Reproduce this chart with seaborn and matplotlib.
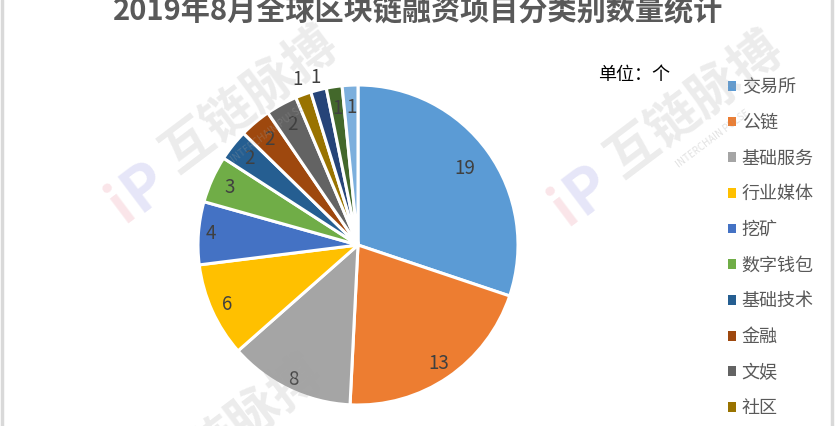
import numpy as np
import matplotlib
matplotlib.use("Agg")
import matplotlib.pyplot as plt
import seaborn as sns

# ---- data ----
title = "2019年8月全球区块链融资项目分类别数量统计"
unit_text = "单位：个"
legend_names = ["交易所", "公链", "基础服务", "行业媒体", "挖矿",
                "数字钱包", "基础技术", "金融", "文娱", "社区"]
counts = [19, 13, 8, 6, 4, 3, 2, 2, 2, 1, 1, 1, 1]
slice_colors = ["#5B9BD5", "#ED7D31", "#A5A5A5", "#FFC000", "#4472C4",
                "#70AD47", "#255E91", "#9E480E", "#636363", "#997300",
                "#264478", "#43682B", "#7CAFDD"]
# radial position of each value label (fraction of the radius)
label_radius = [0.82, 0.90, 0.93, 0.90, 0.92, 0.88, 0.87, 0.86, 0.86,
                1.10, 1.08, 0.86, 0.86]

sns.set_theme(style="white")
plt.rcParams["font.family"] = ["Noto Sans CJK SC", "DejaVu Sans"]
palette = sns.color_palette(slice_colors)

W, H = 836, 426
fig = plt.figure(figsize=(W / 100, H / 100), dpi=100)
fig.patch.set_facecolor("white")
ax = fig.add_axes([0, 0, 1, 1])

cx, cy, R = 358, H - 245, 160
wedges, _ = ax.pie(counts, colors=palette, startangle=90, counterclock=False,
                   center=(cx, cy), radius=R, frame=True,
                   wedgeprops=dict(edgecolor="white", linewidth=2.2))
ax.set_xlim(0, W)
ax.set_ylim(0, H)
ax.set_aspect("equal")
ax.axis("off")

for w, v, f in zip(wedges, counts, label_radius):
    mid = np.deg2rad((w.theta1 + w.theta2) / 2)
    ax.text(cx + f * R * np.cos(mid), cy + f * R * np.sin(mid), str(v),
            ha="center", va="center", fontsize=13.5, color="#404040")

# title
fig.text(0.5, 1 - 10 / H, title, ha="center", va="center", fontsize=21,
         fontweight="bold", color="#595959")
# unit note
ax.text(598, H - 75, unit_text, ha="left", va="center", fontsize=13,
        color="#000000")

leg = ax.legend(wedges[:len(legend_names)], legend_names, loc="upper left",
                bbox_to_anchor=(721 / W, 1 - 71 / H), frameon=False,
                fontsize=13, handlelength=0.45, handleheight=0.45,
                handletextpad=0.3, labelspacing=0.98, borderaxespad=0)
for t in leg.get_texts():
    t.set_color("#595959")
for h in leg.legend_handles:
    h.set_edgecolor("none")

# faint brand watermark
marks = [((250, 100), (135, 195)), ((695, 105), (578, 198))]
for (tx, ty), (lx, ly) in marks:
    ax.text(tx, H - ty, "互链脉搏", rotation=37, ha="center", va="center",
            fontsize=37, fontweight="bold", color="#a0a0a0", alpha=0.2,
            zorder=10)
    ax.text(tx + 18, H - ty - 34, "INTERCHAIN PULSE", rotation=37,
            ha="center", va="center", fontsize=7, color="#a0a0a0",
            alpha=0.3, zorder=10)
    ax.text(lx - 14, H - ly - 10, "i", rotation=37, ha="center", va="center",
            fontsize=40, fontweight="bold", color="#e88a99", alpha=0.22,
            zorder=10)
    ax.text(lx + 10, H - ly + 8, "P", rotation=37, ha="center", va="center",
            fontsize=44, fontweight="bold", color="#8c8ce0", alpha=0.22,
            zorder=10)
# lower watermark, running off the bottom edge
ax.text(255, H - 415, "链脉搏", rotation=37, ha="center", va="center",
        fontsize=37, fontweight="bold", color="#a0a0a0", alpha=0.2,
        zorder=10)

# thin grey frame edges at both sides
for x in (2, W - 4):
    ax.plot([x, x], [0, H], color="#d9d9d9", linewidth=2.5, zorder=11)

fig.savefig("out.png", dpi=100, facecolor="white")
